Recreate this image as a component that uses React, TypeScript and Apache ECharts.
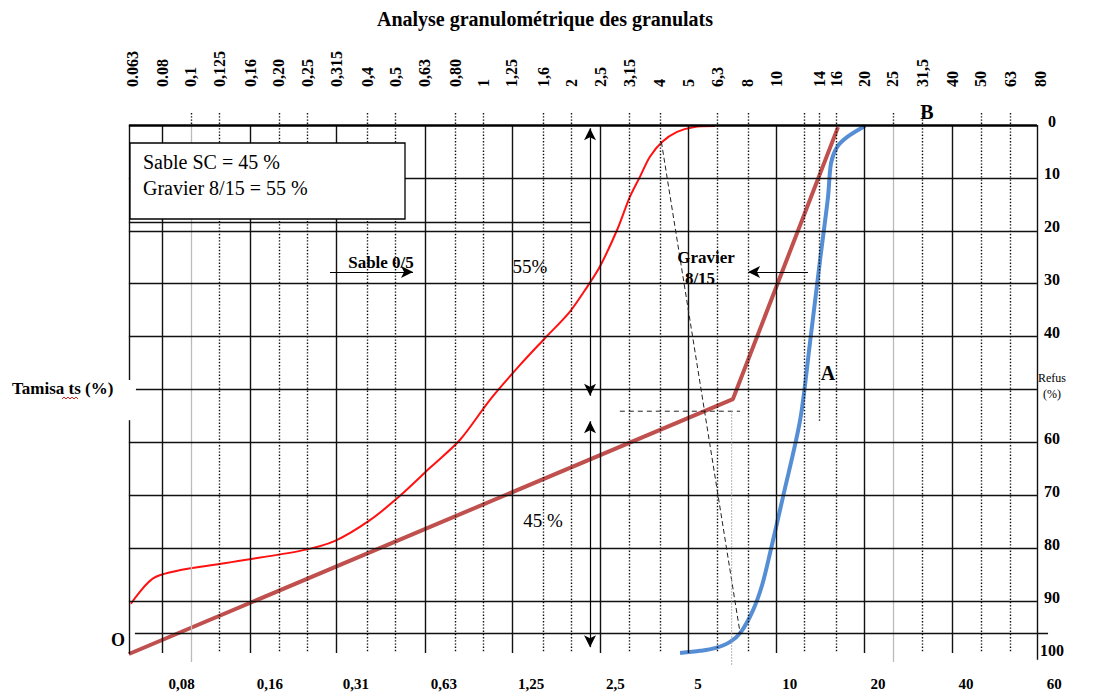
import React, { useEffect, useRef } from "react";
import * as echarts from "echarts";

// ---- axis extents (sieve size in mm, log scale; passing % linear) ----
const X_MIN = 0.05726;
const X_MAX = 91.7;
const Y_MIN = -3.02;
const Y_MAX = 102.84;
const X_LEFT = 0.0614; // left border of the graph paper
const X_RIGHT = 77.7; // right border of the graph paper

// ---- tick values and labels ----
const TOP_TICK_VALUES = [0.063, 0.08, 0.1, 0.125, 0.16, 0.2, 0.25, 0.315, 0.4, 0.5, 0.63, 0.8, 1, 1.25, 1.6, 2, 2.5, 3.15, 4, 5, 6.3, 8, 10, 14, 16, 20, 25, 31.5, 40, 50, 63, 80];
const TOP_TICK_LABELS = ["0.063", "0.08", "0,1", "0,125", "0,16", "0,20", "0,25", "0,315", "0,4", "0,5", "0,63", "0,80", "1", "1,25", "1,6", "2", "2,5", "3,15", "4", "5", "6,3", "8", "10", "14", "16", "20", "25", "31,5", "40", "50", "63", "80"];
const BOTTOM_TICK_VALUES = [0.08, 0.16, 0.315, 0.63, 1.25, 2.5, 5, 10, 20, 40, 80];
const BOTTOM_TICK_LABELS = ["0,08", "0,16", "0,31", "0,63", "1,25", "2,5", "5", "10", "20", "40", "60"];
const RIGHT_TICK_VALUES = [100, 90, 80, 70, 60, 50, 40, 30, 20, 10, 0]; // passing %, shown as refus

// ---- grid (graph paper) lines ----
const SOLID_V = [0.08, 0.16, 0.315, 0.63, 1.25, 2.5, 5, 10, 20, 40];
const DOTTED_V = [0.125, 0.2, 0.25, 0.4, 0.5, 0.8, 1, 1.6, 2, 3.15, 4, 6.3, 8, 12.5, 16, 31.5, 50, 63];
const GRAY_V = [0.1, 25];
const PARTIAL_DOTTED_V = [14];
const H_LINES = [90, 80, 70, 60, 40, 30, 20, 10];

// ---- curves: [sieve size mm, passing %] ----
const SABLE_SIZE = [0.0624, 0.076, 0.132, 0.236, 0.311, 0.409, 0.518, 0.656, 0.831, 1.05, 1.33, 1.62, 1.97, 2.27, 2.5, 2.86, 3.16, 3.42, 3.7, 4.07, 4.58, 5.2, 6.17];
const SABLE_PASS = [9.5, 14.6, 17.2, 19.5, 21.4, 25.3, 29.9, 35.2, 40.5, 48.0, 54.6, 59.7, 64.7, 69.6, 73.3, 80.2, 86.4, 90.2, 94.0, 96.8, 98.7, 99.6, 99.8];
const GRAVIER_SIZE = [4.69, 5.49, 6.17, 6.95, 7.58, 8.33, 8.94, 9.52, 10.54, 12.06, 13.03, 14.11, 15.02, 15.38, 16.12, 17.44, 20.1];
const GRAVIER_PASS = [0.2, 0.6, 1.1, 2.3, 4.2, 8.3, 13.0, 19.1, 29.7, 44.2, 58.8, 74.5, 86.4, 92.8, 95.8, 97.7, 99.8];
const REF_SIZE = [0.0614, 7.11, 16.25]; // O - A - B
const REF_PASS = [0, 48.2, 99.6];
const DIAG_SIZE = [4.05, 7.52];
const DIAG_PASS = [96.8, 4.0];
const HDASH_SIZE = [2.92, 7.52];
const HDASH_PASS = [45.9, 45.9];
const VDOT_SIZE = [7.04, 7.04];
const VDOT_PASS = [45.9, -2.1];

const SERIF = '"Liberation Serif", "Times New Roman", serif';

const zip = (a: number[], b: number[]) => a.map((v, i) => [v, b[i]]);
const labelFor = (values: number[], labels: string[]) => (v: number) => {
  const i = values.findIndex((t) => Math.abs(t - v) <= Math.abs(t) * 1e-6 + 1e-9);
  return i >= 0 ? labels[i] : "";
};

export default function App() {
  const ref = useRef<HTMLDivElement>(null);

  useEffect(() => {
    if (!ref.current) return;
    const chart = echarts.init(ref.current, undefined, { renderer: "svg" });

    const seg = (a: number[], b: number[], style: any) => [
      { coord: a, lineStyle: style },
      { coord: b },
    ];
    const solid = { color: "#111", width: 1.4, type: "solid" };
    const dotted = { color: "#111", width: 1.4, type: [1.4, 1.8] };
    const gray = { color: "#bbb", width: 1.3, type: "solid" };

    const gridLines: any[] = [];
    [...DOTTED_V, ...GRAY_V, ...PARTIAL_DOTTED_V].forEach((v) =>
      gridLines.push(seg([v, 102.27], [v, 100], dotted))
    );
    DOTTED_V.forEach((v) => gridLines.push(seg([v, 100], [v, 0.2], dotted)));
    PARTIAL_DOTTED_V.forEach((v) => gridLines.push(seg([v, 100], [v, 44], dotted)));
    GRAY_V.forEach((v) => gridLines.push(seg([v, 100], [v, -1.5], gray)));
    SOLID_V.forEach((v) => gridLines.push(seg([v, 100], [v, 0.2], solid)));
    H_LINES.forEach((p) => gridLines.push(seg([X_LEFT, p], [X_RIGHT, p], solid)));
    gridLines.push(seg([0.0649, 50], [X_RIGHT, 50], solid));
    gridLines.push(seg([X_LEFT, 81.7], [2.31, 81.7], solid));
    gridLines.push(seg([0.0644, 4.0], [84.8, 4.0], solid));
    gridLines.push(seg([X_LEFT, 100], [X_LEFT, 51.8], solid));
    gridLines.push(seg([X_LEFT, 44.2], [X_LEFT, 0], solid));
    gridLines.push(seg([X_RIGHT, 100], [X_RIGHT, -1.1], solid));
    gridLines.push(seg([X_LEFT, 100], [X_RIGHT, 100], { color: "#000", width: 2.6, type: "solid" }));

    const arrowStyle = { color: "#000", width: 1.2, type: "solid" };

    const option: any = {
      animation: false,
      backgroundColor: "#fff",
      grid: { left: 120, right: 40, top: 110, bottom: 28, containLabel: false, outerBoundsMode: "none" },
      xAxis: [
        {
          type: "log",
          logBase: 10,
          position: "bottom",
          min: X_MIN,
          max: X_MAX,
          axisLine: { show: false },
          axisTick: { show: false },
          splitLine: { show: false },
          minorSplitLine: { show: false },
          axisLabel: {
            customValues: BOTTOM_TICK_VALUES,
            formatter: labelFor(BOTTOM_TICK_VALUES, BOTTOM_TICK_LABELS),
            align: "left",
            padding: [0, 0, 0, 6],
            margin: 6,
            color: "#000",
            fontFamily: SERIF,
            fontWeight: "bold",
            fontSize: 15,
            showMinLabel: true,
            showMaxLabel: true,
          },
        },
        {
          type: "log",
          logBase: 10,
          position: "top",
          min: X_MIN,
          max: X_MAX,
          axisLine: { show: false },
          axisTick: { show: false },
          splitLine: { show: false },
          axisLabel: {
            customValues: TOP_TICK_VALUES,
            formatter: labelFor(TOP_TICK_VALUES, TOP_TICK_LABELS),
            rotate: 90,
            margin: 23,
            color: "#000",
            fontFamily: SERIF,
            fontWeight: "bold",
            fontSize: 16,
            showMinLabel: true,
            showMaxLabel: true,
          },
        },
      ],
      yAxis: [
        { type: "value", min: Y_MIN, max: Y_MAX, show: false },
        {
          type: "value",
          min: Y_MIN,
          max: Y_MAX,
          position: "right",
          offset: -21,
          axisLine: { show: false },
          axisTick: { show: false },
          splitLine: { show: false },
          axisLabel: {
            customValues: RIGHT_TICK_VALUES,
            formatter: (v: number) =>
              Math.abs(v - 50) < 1e-6 ? "{s|Refus}\n{s|(%)}" : String(Math.round(100 - v)),
            align: "center",
            margin: 15,
            padding: [0, 0, 8, 0],
            color: "#000",
            fontFamily: SERIF,
            fontWeight: "bold",
            fontSize: 16,
            showMinLabel: true,
            showMaxLabel: true,
            rich: {
              s: { fontFamily: SERIF, fontSize: 12, fontWeight: "normal", color: "#000", lineHeight: 16 },
            },
          },
        },
      ],
      series: [
        {
          name: "grid",
          type: "line",
          data: [],
          silent: true,
          z: 1,
          markLine: {
            silent: true,
            symbol: ["none", "none"],
            label: { show: false },
            emphasis: { disabled: true },
            animation: false,
            data: gridLines,
          },
        },
        {
          name: "Sable 0/5",
          type: "line",
          data: zip(SABLE_SIZE, SABLE_PASS),
          smooth: 0.3,
          showSymbol: false,
          lineStyle: { color: "#ff1111", width: 2 },
          z: 4,
        },
        {
          name: "OAB",
          type: "line",
          data: zip(REF_SIZE, REF_PASS),
          showSymbol: false,
          lineStyle: { color: "#c0504d", width: 4 },
          z: 3,
        },
        {
          name: "Gravier 8/15",
          type: "line",
          data: zip(GRAVIER_SIZE, GRAVIER_PASS),
          smooth: 0.3,
          showSymbol: false,
          lineStyle: { color: "#558ed5", width: 4 },
          z: 4,
        },
        {
          name: "diag",
          type: "line",
          data: zip(DIAG_SIZE, DIAG_PASS),
          showSymbol: false,
          lineStyle: { color: "#222", width: 1, type: [5, 3] },
          z: 5,
        },
        {
          name: "hdash",
          type: "line",
          data: zip(HDASH_SIZE, HDASH_PASS),
          showSymbol: false,
          lineStyle: { color: "#222", width: 1, type: [5, 4] },
          z: 5,
        },
        {
          name: "vdot",
          type: "line",
          data: zip(VDOT_SIZE, VDOT_PASS),
          showSymbol: false,
          lineStyle: { color: "#999", width: 1, type: [1.5, 1.5] },
          z: 5,
        },
        {
          name: "double arrows",
          type: "line",
          data: [],
          z: 6,
          markLine: {
            silent: true,
            symbol: ["arrow", "arrow"],
            symbolSize: [9, 12],
            label: { show: false },
            emphasis: { disabled: true },
            data: [
              seg([2.31, 99.4], [2.31, 48.8], arrowStyle),
              seg([2.31, 44.0], [2.31, 1.3], arrowStyle),
            ],
          },
        },
        {
          name: "single arrows",
          type: "line",
          data: [],
          z: 6,
          markLine: {
            silent: true,
            symbol: ["none", "arrow"],
            symbolSize: [9, 12],
            label: { show: false },
            emphasis: { disabled: true },
            data: [
              seg([0.2987, 72.2], [0.574, 72.2], arrowStyle),
              seg([12.83, 72.2], [8.006, 72.2], arrowStyle),
            ],
          },
        },
      ],
      graphic: [
        {
          type: "text",
          x: 545,
          y: 19,
          style: { text: "Analyse granulométrique des granulats", font: `bold 20px ${SERIF}`, fill: "#000", align: "center", verticalAlign: "middle" },
        },
        {
          type: "rect",
          z: 100,
          shape: { x: 130, y: 143, width: 275, height: 76 },
          style: { fill: "#fff", stroke: "#000", lineWidth: 1.3 },
        },
        {
          type: "text",
          z: 101,
          x: 143,
          y: 162,
          style: { text: "Sable SC = 45 %", font: `20px ${SERIF}`, fill: "#000", align: "left", verticalAlign: "middle" },
        },
        {
          type: "text",
          z: 101,
          x: 143,
          y: 188,
          style: { text: "Gravier 8/15 = 55 %", font: `20px ${SERIF}`, fill: "#000", align: "left", verticalAlign: "middle" },
        },
        {
          type: "text",
          z: 101,
          x: 381,
          y: 262,
          style: { text: "Sable 0/5", font: `bold 17px ${SERIF}`, fill: "#000", align: "center", verticalAlign: "middle" },
        },
        {
          type: "text",
          z: 101,
          x: 530,
          y: 266,
          style: { text: "55%", font: `19px ${SERIF}`, fill: "#000", align: "center", verticalAlign: "middle" },
        },
        {
          type: "text",
          z: 101,
          x: 543,
          y: 520,
          style: { text: "45 %", font: `19px ${SERIF}`, fill: "#000", align: "center", verticalAlign: "middle" },
        },
        {
          type: "text",
          z: 101,
          x: 706,
          y: 257,
          style: { text: "Gravier", font: `bold 17px ${SERIF}`, fill: "#000", align: "center", verticalAlign: "middle" },
        },
        {
          type: "text",
          z: 101,
          x: 700,
          y: 278,
          style: { text: "8/15", font: `bold 17px ${SERIF}`, fill: "#000", align: "center", verticalAlign: "middle" },
        },
        {
          type: "text",
          z: 101,
          x: 828,
          y: 373,
          style: { text: "A", font: `bold 20px ${SERIF}`, fill: "#000", align: "center", verticalAlign: "middle" },
        },
        {
          type: "text",
          z: 101,
          x: 927,
          y: 112,
          style: { text: "B", font: `bold 20px ${SERIF}`, fill: "#000", align: "center", verticalAlign: "middle" },
        },
        {
          type: "text",
          z: 101,
          x: 118,
          y: 640,
          style: { text: "O", font: `bold 18px ${SERIF}`, fill: "#000", align: "center", verticalAlign: "middle" },
        },
        {
          type: "text",
          z: 101,
          x: 12,
          y: 388,
          style: { text: "Tamisa ts (%)", font: `bold 17px ${SERIF}`, fill: "#000", align: "left", verticalAlign: "middle" },
        },
        {
          type: "polyline",
          z: 101,
          shape: { points: [[62, 399], [64, 397], [66, 399], [68, 397], [70, 399], [72, 397], [74, 399], [76, 397], [78, 399]] },
          style: { stroke: "#e02020", lineWidth: 1, fill: "none" },
        },
      ],
    };

    chart.setOption(option);
    return () => chart.dispose();
  }, []);

  return (
    <div
      ref={ref}
      style={{ position: "fixed", left: 0, top: 0, width: 1098, height: 698, background: "#fff" }}
    />
  );
}
